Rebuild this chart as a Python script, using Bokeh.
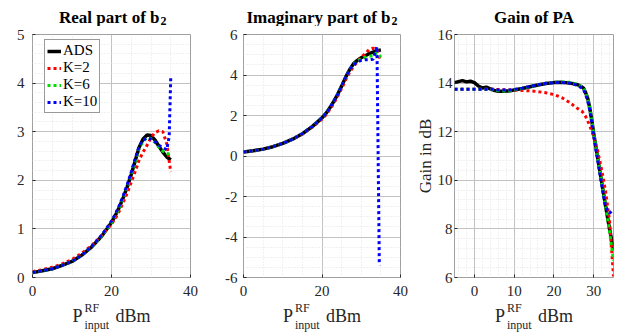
from bokeh.plotting import figure
from bokeh.layouts import row, column
from bokeh.models import Legend, LegendItem, FixedTicker, Range1d
from bokeh.core.properties import value
from bokeh.embed import file_html
from bokeh.resources import INLINE

# ---------------- data ----------------
x_re = [0, 2.5, 5, 7.5, 10, 12.5, 15, 17.5, 20, 21, 22, 23, 24, 25, 26, 27, 28, 29, 30, 31, 32, 33, 34, 35]
re_ads = [0.10, 0.14, 0.18, 0.25, 0.33, 0.46, 0.63, 0.85, 1.13, 1.28, 1.45, 1.65, 1.87, 2.12, 2.40, 2.68, 2.85, 2.93, 2.92, 2.83, 2.70, 2.58, 2.48, 2.42]
re_k2 = [0.12, 0.16, 0.21, 0.28, 0.37, 0.50, 0.66, 0.86, 1.10, 1.22, 1.37, 1.55, 1.74, 1.96, 2.18, 2.42, 2.58, 2.72, 2.88, 2.98, 3.02, 3.00, 2.75, 2.17]
re_k6 = [0.10, 0.14, 0.18, 0.25, 0.33, 0.46, 0.63, 0.85, 1.13, 1.28, 1.45, 1.65, 1.87, 2.12, 2.40, 2.66, 2.80, 2.88, 2.86, 2.78, 2.68, 2.60, 2.55, 2.54]
x_re_k10 = [0, 2.5, 5, 7.5, 10, 12.5, 15, 17.5, 20, 21, 22, 23, 24, 25, 26, 27, 28, 29, 30, 31, 32, 33, 34, 34.6, 35]
re_k10 = [0.10, 0.14, 0.18, 0.25, 0.33, 0.46, 0.64, 0.87, 1.16, 1.31, 1.49, 1.69, 1.92, 2.17, 2.45, 2.70, 2.83, 2.87, 2.85, 2.79, 2.72, 2.67, 2.63, 2.90, 4.12]

x_im = [0, 2.5, 5, 7.5, 10, 12.5, 15, 17.5, 20, 21, 22, 23, 24, 25, 26, 27, 28, 29, 30, 31, 32, 33, 34, 35]
im_ads = [0.20, 0.26, 0.34, 0.46, 0.62, 0.83, 1.10, 1.45, 1.88, 2.10, 2.38, 2.70, 3.05, 3.45, 3.88, 4.25, 4.55, 4.72, 4.85, 4.95, 5.05, 5.13, 5.20, 5.24]
im_k2 = [0.20, 0.26, 0.34, 0.46, 0.62, 0.83, 1.08, 1.42, 1.82, 2.03, 2.30, 2.60, 2.95, 3.33, 3.75, 4.12, 4.42, 4.65, 4.88, 5.05, 5.25, 5.32, 5.25, 4.68]
im_k6 = [0.20, 0.26, 0.34, 0.46, 0.62, 0.83, 1.10, 1.45, 1.88, 2.10, 2.38, 2.70, 3.05, 3.45, 3.88, 4.25, 4.52, 4.68, 4.80, 4.88, 4.92, 4.95, 5.10, 4.88]
x_im_k10 = [0, 2.5, 5, 7.5, 10, 12.5, 15, 17.5, 20, 21, 22, 23, 24, 25, 26, 27, 28, 29, 30, 31, 32, 33, 34, 34.6]
im_k10 = [0.20, 0.26, 0.34, 0.46, 0.62, 0.83, 1.10, 1.45, 1.88, 2.10, 2.38, 2.70, 3.05, 3.45, 3.88, 4.25, 4.50, 4.65, 4.72, 4.75, 4.75, 4.78, 5.40, -5.40]

x_g = [-5, -4, -3, -2, -1, 0, 1, 2, 3, 4, 5, 6, 7, 8, 9, 10, 12, 14, 16, 18, 20, 22, 24, 25, 26, 27, 27.5, 28, 28.5, 29, 29.5, 30, 31, 32, 33, 34, 35]
g_ads = [14.02, 14.06, 14.10, 14.05, 14.08, 14.02, 13.88, 13.80, 13.83, 13.76, 13.70, 13.66, 13.66, 13.67, 13.68, 13.72,
         13.78, 13.85, 13.92, 13.98, 14.02, 14.03, 14.00, 13.97, 13.93, 13.85, 13.78, 13.60, 13.38, 13.00, 12.50, 11.95,
         10.95, 9.95, 8.95, 8.00, 7.15]
g_k2 = [13.75, 13.75, 13.75, 13.75, 13.75, 13.75, 13.75, 13.75, 13.75, 13.75, 13.74, 13.74, 13.73, 13.73, 13.72, 13.72,
        13.70, 13.68, 13.65, 13.60, 13.53, 13.40, 13.20, 13.07, 12.95, 12.85, 12.75, 12.62, 12.45, 12.25, 12.05, 11.80,
        11.22, 10.45, 9.55, 8.35, 6.05]
g_k6 = [13.75, 13.75, 13.75, 13.75, 13.75, 13.75, 13.75, 13.75, 13.75, 13.74, 13.72, 13.68, 13.67, 13.67, 13.68, 13.72,
        13.78, 13.85, 13.93, 13.99, 14.03, 14.05, 14.03, 13.99, 13.93, 13.85, 13.78, 13.60, 13.38, 13.00, 12.50, 11.95,
        10.95, 9.95, 8.95, 7.90, 6.70]
g_k10 = [13.75, 13.75, 13.75, 13.75, 13.75, 13.75, 13.75, 13.75, 13.75, 13.75, 13.74, 13.72, 13.72, 13.72, 13.72, 13.74,
         13.79, 13.86, 13.93, 13.99, 14.02, 14.03, 14.00, 13.96, 13.90, 13.80, 13.72, 13.52, 13.28, 12.90, 12.40, 11.85,
         10.85, 9.85, 8.90, 8.65, 8.80]

series_labels = ["ADS", "K=2", "K=6", "K=10"]
series_colors = ["black", "#ff0000", "#00dd00", "#0000ff"]

titles = ["Real part of b", "Imaginary part of b", "Gain of PA"]
title_subs = ["2", "2", ""]
gain_label = "Gain in dB"

FONT = "'Liberation Serif', 'Times New Roman', 'DejaVu Serif', serif"
TXT = "#262626"

# columns: (figure width, left border, right border)
cols = [(208, 32, 18), (200, 35, 8), (224, 46, 19)]
TOP_H = 26
BOT_H = 34
MAIN_H = 336 - TOP_H - BOT_H


def blank_fig(width, height):
    f = figure(width=width, height=height, x_range=Range1d(0, width), y_range=Range1d(0, height),
               output_backend="svg", toolbar_location=None, min_border=0,
               x_axis_type=None, y_axis_type=None)
    f.outline_line_color = None
    f.background_fill_color = "white"
    f.border_fill_color = "white"
    return f


def title_fig(i):
    w, left, right = cols[i]
    fw = w - left - right
    f = blank_fig(w, TOP_H)
    if title_subs[i]:
        ends = {0: left + 127, 1: left + 147}
        xe = ends[i]
        f.text(x=[xe], y=[9.5], text=[titles[i]], text_font=value(FONT), text_font_size="17px",
               text_font_style="bold", text_align="right", text_baseline="alphabetic", text_color="black")
        f.text(x=[xe + 1], y=[6.0], text=[title_subs[i]], text_font=value(FONT), text_font_size="12px",
               text_font_style="bold", text_align="left", text_baseline="alphabetic", text_color="black")
    else:
        f.text(x=[left + fw / 2.0], y=[9.5], text=[titles[i]], text_font=value(FONT), text_font_size="17px",
               text_font_style="bold", text_align="center", text_baseline="alphabetic", text_color="black")
    return f


def xlabel_fig(i):
    w, left, right = cols[i]
    fw = w - left - right
    c = left + fw / 2.0
    f = blank_fig(w, BOT_H)
    f.text(x=[c - 39, c + 4], y=[21, 21], text=["P", "dBm"], text_font=value(FONT), text_font_size="18px",
           text_align="left", text_baseline="alphabetic", text_color=TXT)
    f.text(x=[c - 27], y=[28.3], text=["RF"], text_font=value(FONT), text_font_size="12px",
           text_align="left", text_baseline="alphabetic", text_color=TXT)
    f.text(x=[c - 27], y=[11.3], text=["input"], text_font=value(FONT), text_font_size="12px",
           text_align="left", text_baseline="alphabetic", text_color=TXT)
    return f


def main_fig(i, xr, yr, xt, xm, yt, ym, standoff, ylabel=None):
    w, left, right = cols[i]
    p = figure(width=w, height=MAIN_H, x_range=Range1d(*xr), y_range=Range1d(*yr),
               output_backend="svg", toolbar_location=None,
               min_border_top=8, min_border_bottom=25, min_border_left=left, min_border_right=right)
    p.background_fill_color = "white"
    p.border_fill_color = "white"
    p.outline_line_color = "#a0a0a0"
    p.outline_line_width = 1
    p.xaxis.ticker = FixedTicker(ticks=xt, minor_ticks=xm)
    p.yaxis.ticker = FixedTicker(ticks=yt, minor_ticks=ym)
    p.yaxis.major_label_overrides = {v: ("%g" % v) for v in yt}
    p.xaxis.major_label_overrides = {v: ("%g" % v) for v in xt}
    for ax in [p.xaxis[0], p.yaxis[0]]:
        ax.axis_line_color = None
        ax.major_tick_in = 3
        ax.major_tick_out = 0
        ax.minor_tick_in = 0
        ax.minor_tick_out = 0
        ax.major_tick_line_color = TXT
        ax.minor_tick_line_color = None
        ax.major_label_text_font = FONT
        ax.major_label_text_font_size = "15px"
        ax.major_label_text_color = TXT
    p.xaxis[0].major_label_standoff = 8
    p.yaxis[0].major_label_standoff = standoff
    if ylabel:
        p.yaxis[0].axis_label = ylabel
        p.yaxis[0].axis_label_text_font = FONT
        p.yaxis[0].axis_label_text_font_size = "17px"
        p.yaxis[0].axis_label_text_font_style = "normal"
        p.yaxis[0].axis_label_text_color = TXT
        p.yaxis[0].axis_label_standoff = 0
    for g in (p.xgrid[0], p.ygrid[0]):
        g.grid_line_color = "#c2c2c2"
        g.grid_line_width = 1
        g.minor_grid_line_color = "#e3e3e3"
        g.minor_grid_line_dash = "1 2"
        g.minor_grid_line_width = 1
    return p


def add_series(p, xs_list, ys_list):
    rs = []
    for i, (xs, ys) in enumerate(zip(xs_list, ys_list)):
        if i == 0:
            r = p.line(xs, ys, line_color=series_colors[i], line_width=3.5)
        else:
            r = p.line(xs, ys, line_color=series_colors[i], line_width=3, line_dash="3 3",
                       line_cap="butt")
        rs.append(r)
    return rs


# Panel 1 : real part
p1 = main_fig(0, (0, 40), (0, 5), [0, 20, 40], [5, 10, 15, 25, 30, 35],
              [0, 1, 2, 3, 4, 5], [v / 5 for v in range(0, 26) if v % 5], 8)
r1 = add_series(p1, [x_re, x_re, x_re, x_re_k10], [re_ads, re_k2, re_k6, re_k10])
legend = Legend(items=[LegendItem(label=series_labels[i], renderers=[r1[i]]) for i in range(4)],
                location=(12, 164), label_text_font=FONT, label_text_font_size="15px",
                label_text_color="black", glyph_width=14, glyph_height=16, label_height=16,
                label_standoff=2, spacing=0, padding=2, margin=0,
                border_line_color="#333333", border_line_width=1, background_fill_alpha=1)
p1.add_layout(legend)

# Panel 2 : imaginary part
p2 = main_fig(1, (0, 40), (-6, 6), [0, 20, 40], [5, 10, 15, 25, 30, 35],
              [-6, -4, -2, 0, 2, 4, 6], [v / 2 for v in range(-12, 13) if v % 4], 6)
add_series(p2, [x_im, x_im, x_im, x_im_k10], [im_ads, im_k2, im_k6, im_k10])

# Panel 3 : gain
p3 = main_fig(2, (-5, 35), (6, 16), [0, 10, 20, 30], [v for v in range(-4, 35, 2) if v % 10],
              [6, 8, 10, 12, 14, 16], [6 + v * 0.4 for v in range(1, 25) if v % 5], 2,
              ylabel=gain_label)
add_series(p3, [x_g, x_g, x_g, x_g], [g_ads, g_k2, g_k6, g_k10])

layout = column(
    row(title_fig(0), title_fig(1), title_fig(2)),
    row(p1, p2, p3),
    row(xlabel_fig(0), xlabel_fig(1), xlabel_fig(2)),
)
open("out.html", "w").write(file_html(layout, INLINE))
